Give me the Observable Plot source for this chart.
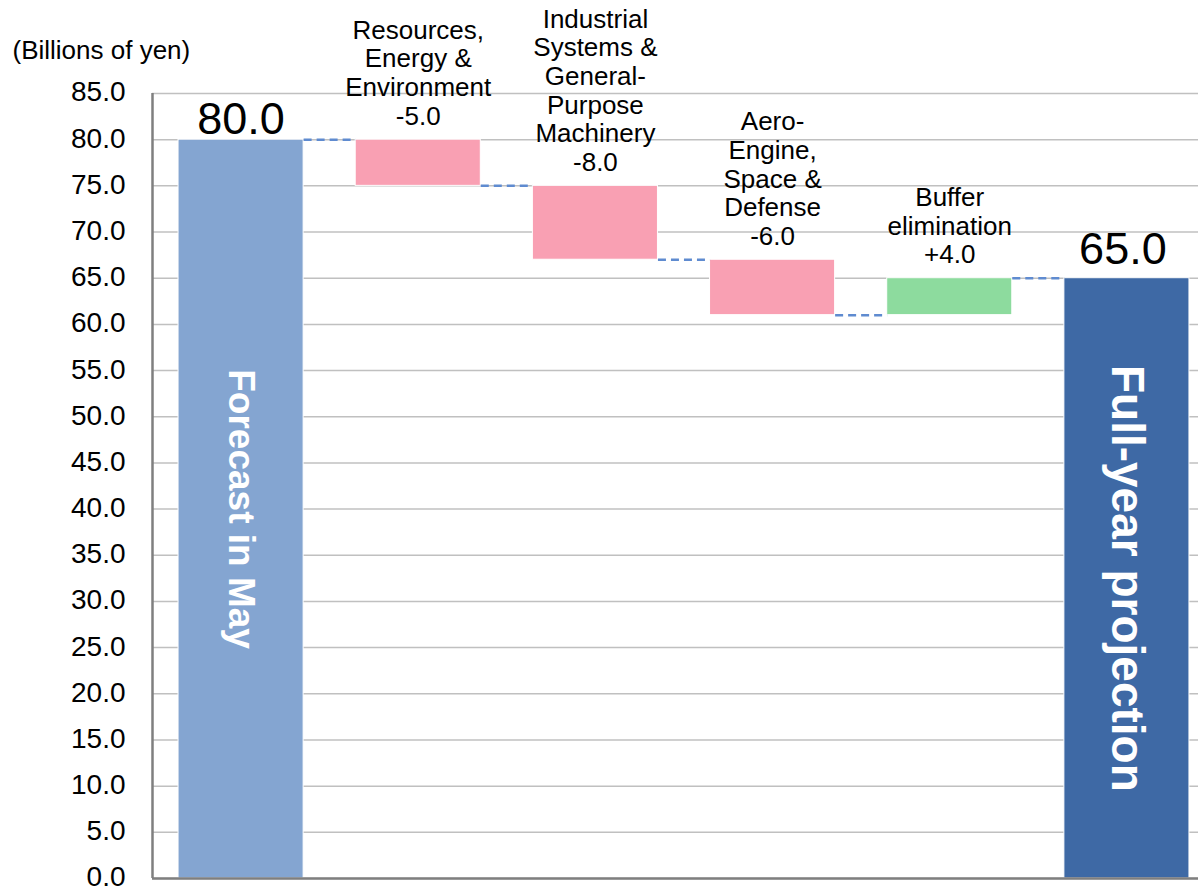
<!DOCTYPE html>
<html>
<head>
<meta charset="utf-8">
<script src="https://cdn.jsdelivr.net/npm/d3@7"></script>
<script src="https://cdn.jsdelivr.net/npm/@observablehq/plot@0.6"></script>
<style>
  html, body { margin: 0; padding: 0; background: #fff; overflow: hidden; }
  #chart svg { display: block; overflow: visible; }
</style>
</head>
<body>
<div id="chart"></div>
<script>
// ---- Data ----
const unitLabel = "(Billions of yen)";
const categories = [
  "Forecast in May",
  "Resources, Energy & Environment",
  "Industrial Systems & General-Purpose Machinery",
  "Aero-Engine, Space & Defense",
  "Buffer elimination",
  "Full-year projection"
];
const labelLines = [
  "",
  "Resources,\nEnergy &\nEnvironment",
  "Industrial\nSystems &\nGeneral-\nPurpose\nMachinery",
  "Aero-\nEngine,\nSpace &\nDefense",
  "Buffer\nelimination",
  ""
];
const values = [80.0, -5.0, -8.0, -6.0, 4.0, 65.0];
const kinds = ["start", "decrease", "decrease", "decrease", "increase", "end"];
const yTicks = [0, 5, 10, 15, 20, 25, 30, 35, 40, 45, 50, 55, 60, 65, 70, 75, 80, 85];

// ---- Derived rows ----
const colorOf = {start: "#84a5d1", decrease: "#f9a0b3", increase: "#8ddb9e", end: "#3e69a5"};
const half = 0.353;
let running = 0;
const rows = categories.map((c, i) => {
  const k = kinds[i];
  let y1, y2;
  if (k === "start" || k === "end") { y1 = 0; y2 = values[i]; running = values[i]; }
  else { y1 = running; y2 = running + values[i]; running = y2; }
  return {i, c, kind: k, y1, y2, top: Math.max(y1, y2), level: running, value: values[i], lines: labelLines[i]};
});
const startRows = rows.filter(d => d.kind === "start");
const endRows = rows.filter(d => d.kind === "end");
const totals = rows.filter(d => d.kind === "start" || d.kind === "end");
const deltas = rows.filter(d => d.kind === "decrease" || d.kind === "increase");
const connectors = rows.slice(0, -1).map(d => ({x1: d.i + half, x2: d.i + 1 - half, y: d.level}));
const signed = v => (v > 0 ? "+" : "-") + Math.abs(v).toFixed(1);

const chart = Plot.plot({
  width: 1198,
  height: 890,
  marginLeft: 152,
  marginRight: 0,
  marginTop: 93,
  marginBottom: 12,
  style: {fontFamily: "'Liberation Sans', Arial, sans-serif", fontSize: "26px", color: "#000", background: "#fff"},
  x: {domain: [-0.5, 5.5], range: [152, 1215], axis: null},
  y: {domain: [0, 85], label: null},
  marks: [
    Plot.gridY(yTicks, {stroke: "#c0c0c0", strokeOpacity: 1, strokeWidth: 1.5}),
    Plot.rect(rows, {
      x1: d => d.i - half, x2: d => d.i + half,
      y1: "y1", y2: "y2",
      fill: d => colorOf[d.kind], stroke: "#fff", strokeWidth: 1
    }),
    Plot.link(connectors, {
      x1: "x1", x2: "x2", y1: "y", y2: "y",
      stroke: "#5f8bd0", strokeWidth: 2.5, strokeDasharray: "8,5"
    }),
    Plot.text(startRows, {
      x: "i", y: "top", text: d => d.value.toFixed(1),
      lineAnchor: "bottom", dy: -6, fontSize: 45, fill: "#000"
    }),
    Plot.text(endRows, {
      x: "i", y: "top", text: d => d.value.toFixed(1),
      lineAnchor: "bottom", dy: -14, dx: -4, fontSize: 45, fill: "#000"
    }),
    Plot.text(deltas, {
      x: "i", y: "top", text: d => d.lines + "\n" + signed(d.value),
      lineAnchor: "bottom", dy: -15, fontSize: 26, lineHeight: 1.1, fill: "#000"
    }),
    Plot.text(totals, {
      x: "i", y: d => d.value / 2, text: "c", rotate: 90,
      fill: "#fff", fontWeight: "bold",
      fontSize: d => d.kind === "start" ? 37 : 46
    }),
    Plot.ruleX([-0.5], {stroke: "#7f7f7f", strokeWidth: 2.5}),
    Plot.ruleY([0], {stroke: "#7f7f7f", strokeWidth: 2.5}),
    Plot.axisY({ticks: yTicks, tickFormat: d => d.toFixed(1), tickSize: 0, tickPadding: 27, dy: -1, fontSize: 28, fill: "#000", label: null}),
    Plot.text([unitLabel], {frameAnchor: "top-left", dx: -140, dy: -43, textAnchor: "start", lineAnchor: "middle", fontSize: 26, fill: "#000"})
  ]
});
document.getElementById("chart").appendChild(chart);
</script>
</body>
</html>
